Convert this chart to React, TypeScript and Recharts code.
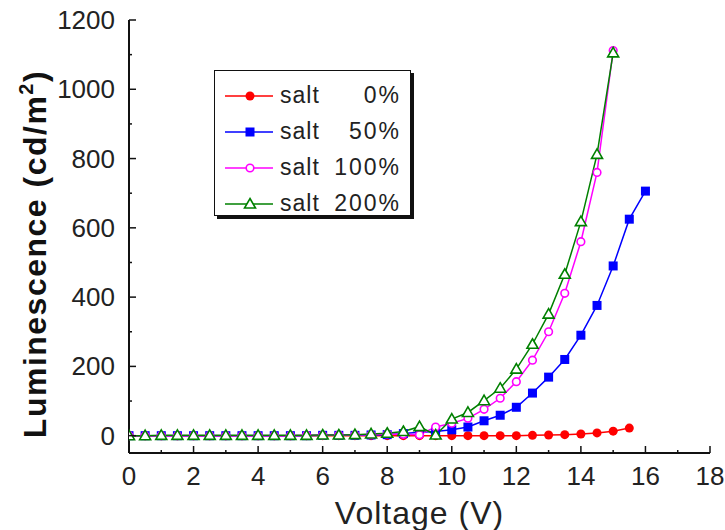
import { Line, LineChart, XAxis, YAxis } from 'recharts';

// sweep voltage (V)
const VOLTAGE = [
    0, 0.5, 1, 1.5, 2, 2.5, 3, 3.5, 4, 4.5, 5, 5.5, 6, 6.5, 7, 7.5, 8, 8.5, 9, 9.5, 10, 10.5, 11, 11.5, 12, 12.5, 13,
    13.5, 14, 14.5, 15, 15.5, 16,
];

// luminescence (cd/m2) per salt content
const SALT_0 = [0, 0, 0, 0, 0, 0, 0, 0, 0, 0, 0, 0, 0, 0, 0, 0, 0, 0, 0, 0, 0, 0, 0, 0, 0, 1, 2, 3, 5, 8, 13, 22];
const SALT_50 = [
    0, 0, 0, 0, 0, 0, 0, 0, 0, 0, 0, 0, 1, 1, 1, 2, 3, 6, 10, 12, 17, 25, 43, 59, 82, 123, 169, 220, 290, 376, 490, 625,
    706,
];
const SALT_100 = [
    0, 0, 0, 0, 0, 0, 0, 0, 0, 0, 0, 1, 1, 2, 2, 3, 5, 4, 3, 25, 36, 50, 76, 108, 156, 218, 300, 411, 560, 760, 1112,
];
const SALT_200 = [
    0, 0, 1, 1, 1, 1, 1, 1, 1, 1, 1, 1, 2, 2, 3, 5, 7, 12, 26, 2, 48, 67, 101, 137, 192, 264, 351, 466, 618, 812, 1105,
];

const X_TICKS = [0, 1, 2, 3, 4, 5, 6, 7, 8, 9, 10, 11, 12, 13, 14, 15, 16, 17, 18];
const Y_TICKS = [0, 100, 200, 300, 400, 500, 600, 700, 800, 900, 1000, 1100, 1200];

const LEGEND = [
    { key: 's0', salt: 'salt', pct: '0%', color: '#ff0000', marker: 'dot' },
    { key: 's50', salt: 'salt', pct: '50%', color: '#0000ff', marker: 'square' },
    { key: 's100', salt: 'salt', pct: '100%', color: '#ff00ff', marker: 'ring' },
    { key: 's200', salt: 'salt', pct: '200%', color: '#008000', marker: 'triangle' },
] as const;

const rows = VOLTAGE.map((v, i) => ({
    v,
    s0: SALT_0[i],
    s50: SALT_50[i],
    s100: SALT_100[i],
    s200: SALT_200[i],
}));

const FONT = '"Liberation Sans", Arial, sans-serif';
const INK = '#111';
const MAJOR = 7;
const MINOR = 3;

function Marker({ kind, cx, cy, color }: { kind: string; cx: number; cy: number; color: string }) {
    if (kind === 'dot') return <circle cx={cx} cy={cy} r={4.5} fill={color} />;
    if (kind === 'square') return <rect x={cx - 4.5} y={cy - 4.5} width={9} height={9} fill={color} />;
    if (kind === 'ring') return <circle cx={cx} cy={cy} r={3.8} fill="#fff" stroke={color} strokeWidth={1.6} />;
    return (
        <path
            d={`M${cx},${cy - 5.5} L${cx + 5.5},${cy + 4} L${cx - 5.5},${cy + 4} Z`}
            fill="#fff"
            stroke={color}
            strokeWidth={1.6}
        />
    );
}

const makeDot = (kind: string, color: string) => (p: any) => {
    if (p.cx == null || p.cy == null || p.value == null) return <g key={`n-${p.index}`} />;
    return (
        <g key={`d-${kind}-${p.index}`}>
            <Marker kind={kind} cx={p.cx} cy={p.cy} color={color} />
        </g>
    );
};

function BottomTick({ x, y, payload }: any) {
    const major = payload.value % 2 === 0;
    return (
        <g>
            <line x1={x} y1={y} x2={x} y2={y - (major ? MAJOR : MINOR)} stroke={INK} strokeWidth={1.5} />
            {major && (
                <text x={x} y={y + 32} textAnchor="middle" fontFamily={FONT} fontSize={26} fill="#222">
                    {payload.value}
                </text>
            )}
        </g>
    );
}

function TopTick({ x, y, payload }: any) {
    const major = payload.value % 2 === 0;
    return <line x1={x} y1={y} x2={x} y2={y + (major ? MAJOR : MINOR)} stroke={INK} strokeWidth={1.5} />;
}

function LeftTick({ x, y, payload }: any) {
    const major = payload.value % 200 === 0;
    return (
        <g>
            <line x1={x} y1={y} x2={x + (major ? MAJOR : MINOR)} y2={y} stroke={INK} strokeWidth={1.5} />
            {major && (
                <text x={x - 14} y={y + 9} textAnchor="end" fontFamily={FONT} fontSize={26} fill="#222">
                    {payload.value}
                </text>
            )}
        </g>
    );
}

function RightTick({ x, y, payload }: any) {
    const major = payload.value % 200 === 0;
    return <line x1={x} y1={y} x2={x - (major ? MAJOR : MINOR)} y2={y} stroke={INK} strokeWidth={1.5} />;
}

function XTitle({ viewBox }: any) {
    return (
        <text
            x={viewBox.x + viewBox.width / 2}
            y={524}
            textAnchor="middle"
            fontFamily={FONT}
            fontSize={32}
            letterSpacing={1}
            fill="#222"
        >
            Voltage (V)
        </text>
    );
}

function YTitle() {
    return (
        <text
            x={46}
            y={254}
            transform="rotate(-90 46 254)"
            textAnchor="middle"
            fontFamily={FONT}
            fontSize={32}
            fontWeight="bold"
            letterSpacing={1.5}
            fill="#111"
        >
            Luminescence (cd/m
            <tspan dy={-13} fontSize={20}>
                2
            </tspan>
            <tspan dy={13}>)</tspan>
        </text>
    );
}

function LegendBox() {
    return (
        <div
            style={{
                position: 'absolute',
                left: 214,
                top: 70,
                width: 197,
                height: 146,
                boxSizing: 'border-box',
                border: `1.5px solid ${INK}`,
                boxShadow: `3px 3px 0 ${INK}`,
                background: '#fff',
                paddingTop: 7,
                fontFamily: FONT,
                fontSize: 23,
                color: '#222',
            }}
        >
            {LEGEND.map((item) => (
                <div key={item.key} style={{ position: 'relative', height: 36 }}>
                    <svg width={62} height={36} style={{ position: 'absolute', left: 0, top: 0 }}>
                        <line x1={10} y1={18} x2={58} y2={18} stroke={item.color} strokeWidth={1.5} />
                        <Marker kind={item.marker} cx={35} cy={18} color={item.color} />
                    </svg>
                    <span style={{ position: 'absolute', left: 65, top: 4, letterSpacing: 1 }}>{item.salt}</span>
                    <span style={{ position: 'absolute', right: 9, top: 4, letterSpacing: 2 }}>{item.pct}</span>
                </div>
            ))}
        </div>
    );
}

export default function App() {
    const axisLine = { stroke: INK, strokeWidth: 2 };
    return (
        <div style={{ position: 'absolute', left: 0, top: 0, width: 725, height: 530, background: '#fff' }}>
            <LineChart width={725} height={530} data={rows} margin={{ top: 20, right: 15, bottom: 0, left: 0 }}>
                <XAxis
                    xAxisId="b"
                    dataKey="v"
                    type="number"
                    domain={[0, 18]}
                    ticks={X_TICKS}
                    interval={0}
                    height={77}
                    tickLine={false}
                    tickSize={0}
                    tickMargin={0}
                    axisLine={axisLine}
                    tick={<BottomTick />}
                    label={<XTitle />}
                    allowDataOverflow
                />
                <XAxis
                    xAxisId="t"
                    orientation="top"
                    dataKey="v"
                    type="number"
                    domain={[0, 18]}
                    ticks={X_TICKS}
                    interval={0}
                    height={0}
                    tickLine={false}
                    tickSize={0}
                    tickMargin={0}
                    axisLine={axisLine}
                    tick={<TopTick />}
                    allowDataOverflow
                />
                <YAxis
                    yAxisId="l"
                    type="number"
                    domain={[-50, 1200]}
                    ticks={Y_TICKS}
                    interval={0}
                    width={129}
                    tickLine={false}
                    tickSize={0}
                    tickMargin={0}
                    axisLine={axisLine}
                    tick={<LeftTick />}
                    label={<YTitle />}
                    allowDataOverflow
                />
                <YAxis
                    yAxisId="r"
                    orientation="right"
                    type="number"
                    domain={[-50, 1200]}
                    ticks={Y_TICKS}
                    interval={0}
                    width={0}
                    tickLine={false}
                    tickSize={0}
                    tickMargin={0}
                    axisLine={axisLine}
                    tick={<RightTick />}
                    allowDataOverflow
                />
                {LEGEND.map((s) => (
                    <Line
                        key={s.key}
                        xAxisId="b"
                        yAxisId="l"
                        type="linear"
                        dataKey={s.key}
                        stroke={s.color}
                        strokeWidth={1.5}
                        dot={makeDot(s.marker, s.color)}
                        activeDot={false}
                        isAnimationActive={false}
                    />
                ))}
            </LineChart>
            <LegendBox />
        </div>
    );
}
